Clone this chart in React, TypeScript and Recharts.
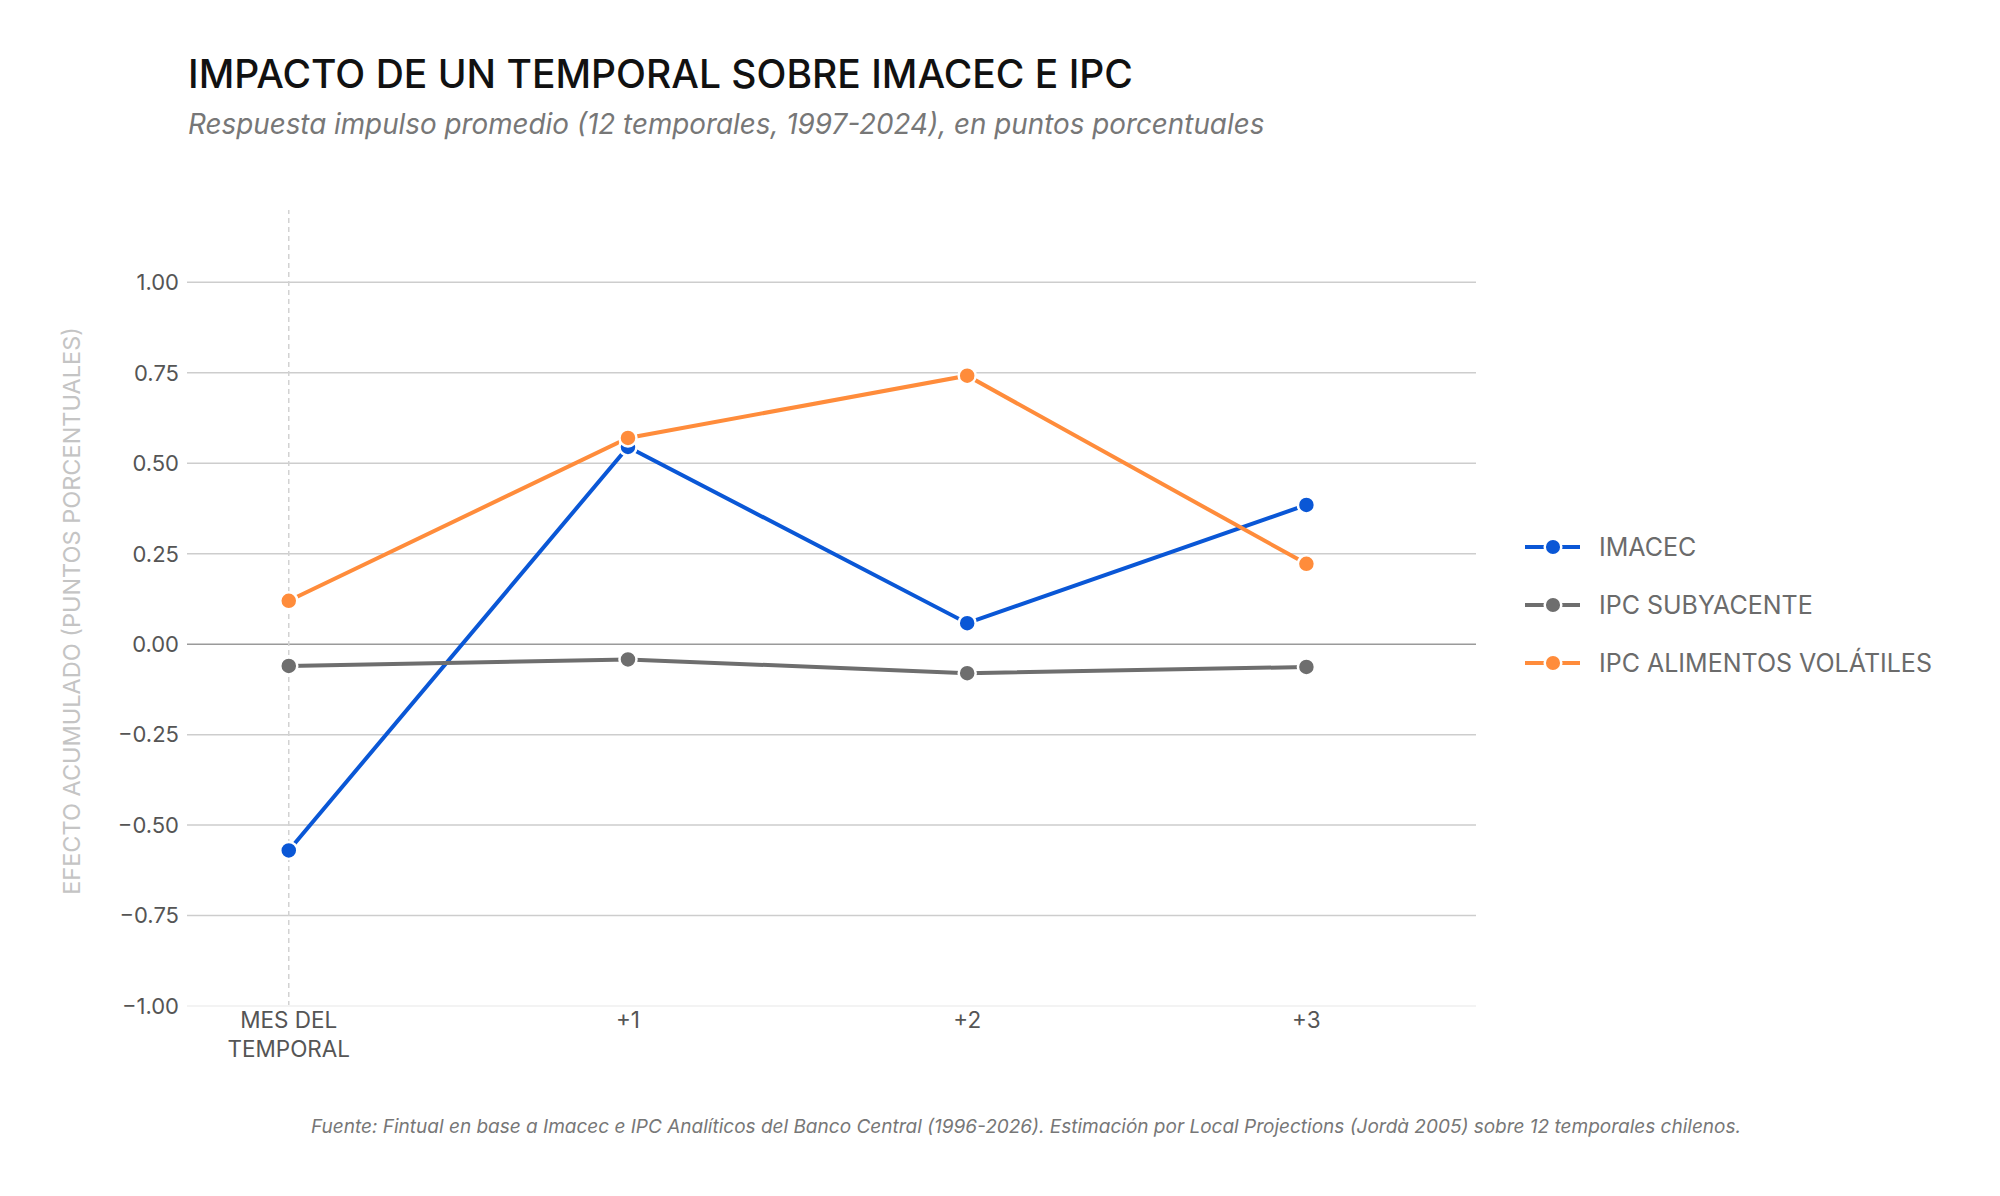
import React from 'react';
import { LineChart, Line, XAxis, YAxis, ReferenceLine, Legend } from 'recharts';

const horizons = [0, 1, 2, 3];
const horizonLabels = ['MES DEL TEMPORAL', '+1', '+2', '+3'];
const imacec = [-0.57, 0.545, 0.058, 0.385];
const ipcSubyacente = [-0.06, -0.042, -0.08, -0.063];
const ipcAlimentos = [0.12, 0.57, 0.742, 0.222];
const yTicks = [-1, -0.75, -0.5, -0.25, 0, 0.25, 0.5, 0.75, 1];

const series = [
  { key: 'imacec', name: 'IMACEC', color: '#0a57d6' },
  { key: 'subyacente', name: 'IPC SUBYACENTE', color: '#6e6e6e' },
  { key: 'alimentos', name: 'IPC ALIMENTOS VOLÁTILES', color: '#ff8c3b' },
];

const data = horizons.map((h, i) => ({
  h,
  imacec: imacec[i],
  subyacente: ipcSubyacente[i],
  alimentos: ipcAlimentos[i],
}));

const FONT = 'Inter, "Open Sans", sans-serif';

const formatY = (v: number) => (v < 0 ? '\u2212' + Math.abs(v).toFixed(2) : v.toFixed(2));

const XTick = ({ x, y, payload }: any) => {
  const label = horizonLabels[horizons.indexOf(payload.value)] || '';
  const lines = label === 'MES DEL TEMPORAL' ? ['MES DEL', 'TEMPORAL'] : [label];
  return (
    <text x={x} y={y} textAnchor="middle" fill="#555" fontSize={22.5} fontFamily={FONT}>
      {lines.map((l, i) => (
        <tspan key={i} x={x} dy={i === 0 ? 22 : 29}>
          {l}
        </tspan>
      ))}
    </text>
  );
};

const LegendContent = () => (
  <svg width={470} height={180}>
    {series.map((s, i) => {
      const cy = 20 + i * 58;
      return (
        <g key={s.key}>
          <line x1={0} x2={55} y1={cy} y2={cy} stroke={s.color} strokeWidth={4} />
          <circle cx={28} cy={cy} r={8.3} fill={s.color} stroke="#fff" strokeWidth={2.5} />
          <text x={74} y={cy + 9} fill="#6b6b6b" fontSize={25} fontFamily={FONT}>
            {s.name}
          </text>
        </g>
      );
    })}
  </svg>
);

export default function App() {
  return (
    <div
      style={{
        position: 'absolute',
        left: 0,
        top: 0,
        width: 2000,
        height: 1196,
        background: '#fff',
        fontFamily: FONT,
        overflow: 'hidden',
      }}
    >
      <div
        style={{
          position: 'absolute',
          left: 188,
          top: 50,
          fontSize: 39,
          fontWeight: 500,
          color: '#111',
          whiteSpace: 'nowrap',
          lineHeight: '48px',
        }}
      >
        IMPACTO DE UN TEMPORAL SOBRE IMACEC E IPC
      </div>
      <div
        style={{
          position: 'absolute',
          left: 188,
          top: 107,
          fontSize: 27.8,
          fontStyle: 'italic',
          color: '#777',
          whiteSpace: 'nowrap',
          lineHeight: '34px',
        }}
      >
        Respuesta impulso promedio (12 temporales, 1997-2024), en puntos porcentuales
      </div>
      <div
        style={{
          position: 'absolute',
          left: 72,
          top: 611,
          transform: 'translate(-50%, -50%) rotate(-90deg)',
          fontSize: 23.5,
          color: '#c4c4c4',
          whiteSpace: 'nowrap',
          lineHeight: '28px',
        }}
      >
        EFECTO ACUMULADO (PUNTOS PORCENTUALES)
      </div>
      <div
        style={{
          position: 'absolute',
          left: 0,
          width: 2052,
          top: 1114,
          textAlign: 'center',
          fontSize: 19,
          fontStyle: 'italic',
          color: '#777',
          whiteSpace: 'nowrap',
          lineHeight: '26px',
        }}
      >
        Fuente: Fintual en base a Imacec e IPC Analíticos del Banco Central (1996-2026). Estimación por Local Projections (Jordà 2005) sobre 12 temporales chilenos.
      </div>
      <div style={{ position: 'absolute', left: 0, top: 0 }}>
        <LineChart
          width={2000}
          height={1196}
          data={data}
          margin={{ top: 210, right: 524, bottom: 130, left: 87 }}
        >
          <XAxis
            dataKey="h"
            type="number"
            domain={[-0.3, 3.5]}
            ticks={horizons}
            tick={<XTick />}
            tickLine={false}
            tickSize={0}
            tickMargin={0}
            height={60}
            axisLine={{ stroke: '#f3f3f3', strokeWidth: 2 }}
          />
          <YAxis
            type="number"
            domain={[-1, 1.2]}
            ticks={yTicks}
            tickFormatter={formatY}
            tick={{ fill: '#555', fontSize: 22, fontFamily: FONT }}
            tickLine={false}
            axisLine={false}
            width={100}
            interval={0}
          />
          {yTicks
            .filter((t) => t > -1)
            .map((t) => (
              <ReferenceLine
                key={t}
                y={t}
                stroke={t === 0 ? '#9a9a9a' : '#cdcdcd'}
                strokeWidth={1.5}
              />
            ))}
          <ReferenceLine x={0} stroke="#d2d2d2" strokeWidth={1.5} strokeDasharray="5 4" />
          {series.map((s) => (
            <Line
              key={s.key}
              type="linear"
              dataKey={s.key}
              name={s.name}
              stroke={s.color}
              strokeWidth={4}
              dot={{ r: 8.5, fill: s.color, stroke: '#fff', strokeWidth: 2.5 }}
              activeDot={false}
              isAnimationActive={false}
            />
          ))}
          <Legend
            layout="vertical"
            align="center"
            verticalAlign="middle"
            content={<LegendContent />}
            wrapperStyle={{ left: 1525, top: 527, width: 470, height: 180 }}
          />
        </LineChart>
      </div>
    </div>
  );
}
